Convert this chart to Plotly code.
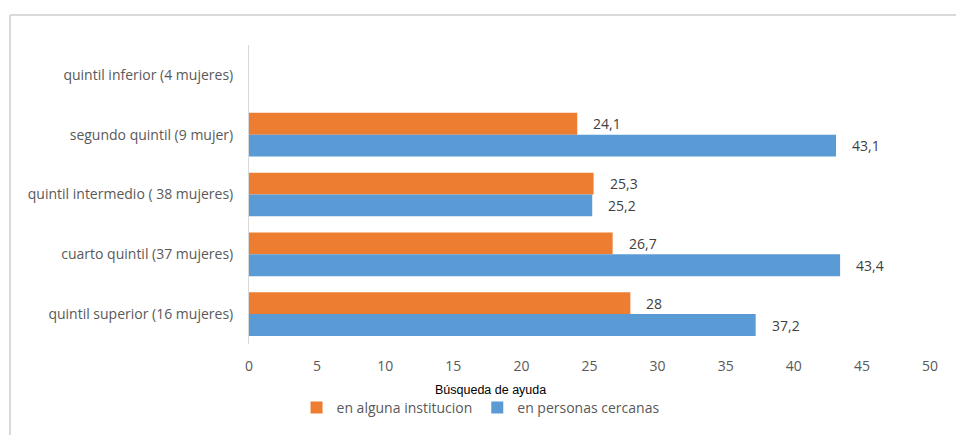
import plotly.graph_objects as go

# Data
categories = [
    "quintil inferior (4 mujeres)",
    "segundo quintil (9 mujer)",
    "quintil intermedio ( 38 mujeres)",
    "cuarto quintil (37 mujeres)",
    "quintil superior (16 mujeres)",
]
institucion = [None, 24.1, 25.3, 26.7, 28]
personas = [None, 43.1, 25.2, 43.4, 37.2]
x_ticks = [0, 5, 10, 15, 20, 25, 30, 35, 40, 45, 50]

ORANGE = "#ED7D31"
BLUE = "#5B9BD5"
GREY = "#595959"
FONT = "Open Sans, sans-serif"

fig = go.Figure()
fig.add_trace(go.Bar(y=categories, x=institucion, orientation="h",
                     name="en alguna institucion", marker_color=ORANGE,
                     marker_line_width=0))
fig.add_trace(go.Bar(y=categories, x=personas, orientation="h",
                     name="en personas cercanas", marker_color=BLUE,
                     marker_line_width=0))

# data labels, placed just right of each bar end
def fmt(v):
    return ("%g" % v).replace(".", ",")

for series, shift in ((institucion, 11), (personas, -11)):
    for cat, v in zip(categories, series):
        if v is None:
            continue
        fig.add_annotation(x=v, y=cat, xref="x", yref="y", text=fmt(v),
                           showarrow=False, xanchor="left", xshift=14,
                           yshift=shift,
                           font=dict(family=FONT, size=14, color="#404040"))

# axis title under tick labels
fig.add_annotation(x=0.354, y=-0.153, xref="paper", yref="paper",
                   text="Búsqueda de ayuda", showarrow=False,
                   xanchor="center", yanchor="middle",
                   font=dict(family="Liberation Sans, Arial", size=12.5,
                             color="#000000"))

# chart frame (left and top edges)
fig.add_shape(type="line", xref="paper", yref="paper",
              x0=-0.351, x1=1.2, y0=1.1, y1=1.1,
              line=dict(color="#d9d9d9", width=2))
fig.add_shape(type="line", xref="paper", yref="paper",
              x0=-0.351, x1=-0.351, y0=1.1, y1=-0.4,
              line=dict(color="#d9d9d9", width=2))

fig.update_layout(
    width=956, height=435,
    margin=dict(l=249, r=26, t=45, b=90),
    barmode="group", bargap=0.27, bargroupgap=0,
    plot_bgcolor="white", paper_bgcolor="white",
    font=dict(family=FONT, size=14, color=GREY),
    showlegend=True,
    legend=dict(orientation="h", x=0.34, xanchor="center",
                y=-0.21, yanchor="middle",
                font=dict(family=FONT, size=14, color=GREY),
                itemwidth=30, tracegroupgap=0),
)
fig.update_xaxes(range=[0, 50], tickvals=x_ticks, showgrid=False,
                 zeroline=False, showline=False, ticks="",
                 ticklabelstandoff=12,
                 tickfont=dict(family=FONT, size=14, color=GREY))
fig.update_yaxes(autorange="reversed", showgrid=False, showline=True,
                 linecolor="#d9d9d9", linewidth=1, ticks="",
                 ticklabelstandoff=12,
                 tickfont=dict(family=FONT, size=14, color=GREY))

fig.write_html("out.html", config={"displayModeBar": False},
               post_script="document.body.style.margin='0';")
